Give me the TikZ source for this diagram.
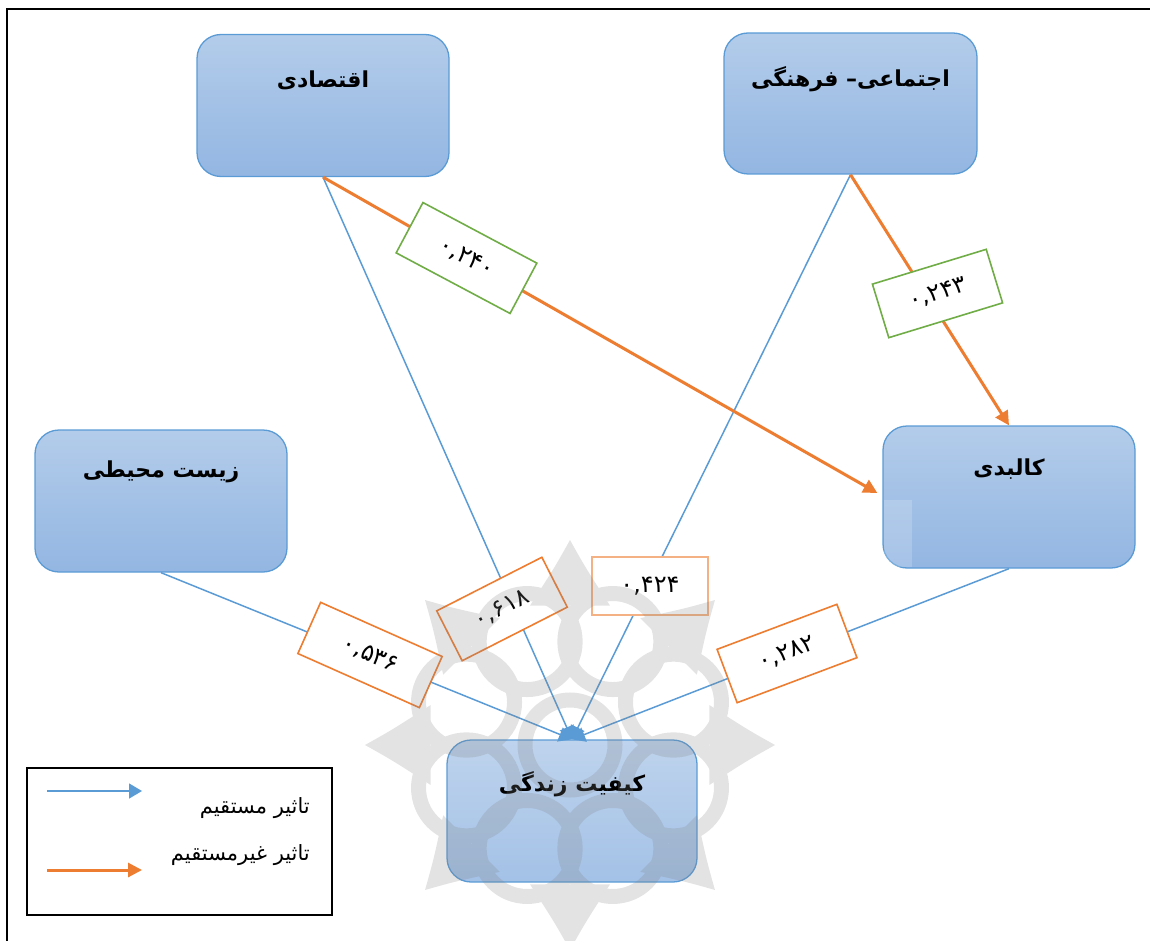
\documentclass[tikz,border=0pt]{standalone}
\usepackage{fontspec}
\usetikzlibrary{arrows.meta,calc}
\TeXXeTstate=1
\newfontfamily\fa[Script=Arabic]{DejaVu Sans}
\definecolor{cblue}{HTML}{5B9BD5}
\definecolor{corange}{HTML}{ED7D31}
\definecolor{cgreen}{HTML}{70AD47}
\definecolor{lorange}{HTML}{F4B183}
\definecolor{boxtop}{HTML}{B3CCEA}
\definecolor{boxbot}{HTML}{93B6E2}
\tikzset{
  box/.style={draw=cblue, line width=1.3pt, rounded corners=24pt, top color=boxtop, bottom color=boxbot,
    minimum width=252pt, minimum height=142pt, inner sep=0pt},
  title/.style={font=\fa\bfseries\fontsize{22}{26}\selectfont, inner sep=0pt},
  direct/.style={draw=cblue, line width=1.5pt, -{Triangle[length=13pt,width=15pt]}},
  indirect/.style={draw=corange, line width=3pt, -{Triangle[length=14pt,width=14pt]}},
  val/.style={fill=white, line width=1.6pt, minimum height=56pt, inner sep=0pt,
    font=\fa\fontsize{24}{27}\selectfont},
  gval/.style={val, draw=cgreen},
  oval/.style={val, draw=corange},
  legtext/.style={font=\fa\fontsize{21}{24}\selectfont, anchor=east, inner sep=0pt},
  wm/.style={draw=gray, line width=15pt},
}
\begin{document}
\begin{tikzpicture}[x=1pt,y=-1pt]
\useasboundingbox (0,0) rectangle (1150,941);
% frame
\draw[line width=2.5pt] (7,941) -- (7,9) -- (1150,9);
% boxes
\node[box] (eco) at (323,105.5) {};
\node[box, minimum width=253pt, minimum height=141pt] (soc) at (850.5,103.5) {};
\node[box] (env) at (161,501) {};
\node[box] (kal) at (1009,497) {};
\fill[white, opacity=0.18] (884,500) rectangle (912,567);
\node[box, minimum width=250pt, top color=boxtop!85!white, bottom color=boxbot!85!white] (qual) at (572,811) {};
% titles
\node[title] (eco-t) at ($(eco.north)+(0,46)$) {\beginR اقتصادی\endR};
\node[title] (soc-t) at ($(soc.north)+(0,47)$) {\beginR اجتماعی– فرهنگی\endR};
\node[title] (env-t) at ($(env.north)+(0,42)$) {\beginR زیست محیطی\endR};
\node[title] (kal-t) at ($(kal.north)+(0,44)$) {\beginR کالبدی\endR};
\node[title] (qual-t) at ($(qual.north)+(0,45)$) {\beginR کیفیت زندگی\endR};
% direct effects
\draw[direct] (eco.south) -- (qual.north);
\draw[direct] (soc.south) -- (qual.north);
\draw[direct] (env.south) -- (qual.north);
\draw[direct] (kal.south) -- (qual.north);
% indirect effects
\coordinate (kal-in) at ($(kal.west)+(-5,-4)$);
\draw[indirect] (eco.south) -- (kal-in);
\draw[indirect] (soc.south) -- (kal.north);
% values
\node[gval, rotate=-28, minimum width=129pt, minimum height=57pt] (v1) at (466.5,258) {۰,۲۴۰};
\node[gval, rotate=17, minimum width=119pt] (v2) at (937.5,293.5) {۰,۲۴۳};
\node[oval, rotate=-24, minimum width=133pt] (v3) at (370,655) {۰,۵۳۶};
\node[oval, rotate=27, minimum width=118pt] (v4) at (502,609) {۰,۶۱۸};
\node[val, draw=lorange, minimum width=116pt, minimum height=58pt] (v5) at (650,586) {۰,۴۲۴};
\node[oval, rotate=20.6, minimum width=128pt, minimum height=57pt] (v6) at (787,653.5) {۰,۲۸۲};
% watermark
\begin{scope}[shift={(570,745)}, transparency group, opacity=0.22]
  \foreach \a in {22.5,67.5,...,360} {
    \draw[wm] (\a:112) circle [radius=48pt];
  }
  \foreach \a in {0,45,...,315} {
    \fill[gray] (\a-16:145) .. controls (\a-5:178) .. (\a:205) .. controls (\a+5:178) .. (\a+16:145) -- cycle;
  }
  \draw[wm] (0,0) circle [radius=45pt];
\end{scope}
% legend
\node[draw, line width=2.5pt, minimum width=305pt, minimum height=147pt, inner sep=0pt] (leg) at (179.5,841.5) {};
\coordinate (l1s) at (47,791);
\coordinate (l1e) at (142,791);
\coordinate (l2s) at (47,870);
\coordinate (l2e) at (142,870);
\draw[direct] (l1s) -- (l1e);
\draw[indirect] (l2s) -- (l2e);
\node[legtext] (lt1) at (310,808) {\beginR تاثیر مستقیم\endR};
\node[legtext] (lt2) at (310,855) {\beginR تاثیر غیرمستقیم\endR};
\end{tikzpicture}
\end{document}
